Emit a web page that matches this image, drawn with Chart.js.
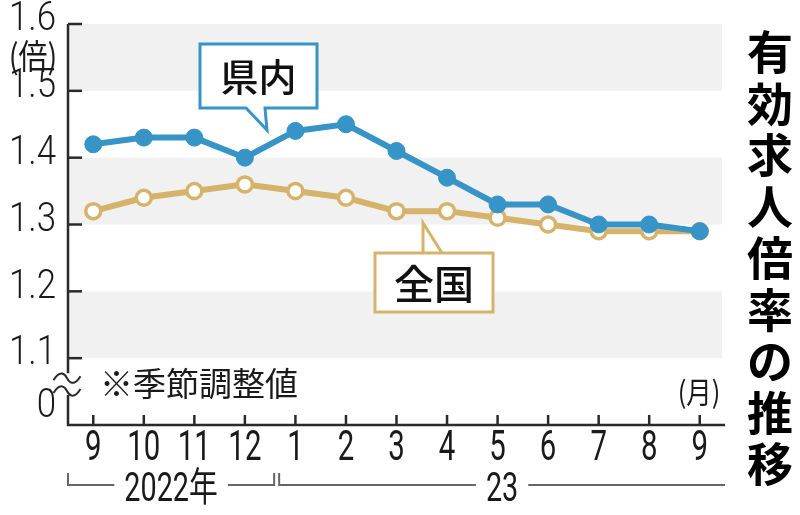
<!DOCTYPE html>
<html lang="ja">
<head>
<meta charset="utf-8">
<title>有効求人倍率の推移</title>
<script src="https://cdn.jsdelivr.net/npm/chart.js@4/dist/chart.umd.min.js"></script>
<style>
  html, body { margin: 0; padding: 0; background: #fff; }
  #wrap { width: 800px; height: 515px; position: relative; }
</style>
</head>
<body>
<div id="wrap"><canvas id="jobsChart"></canvas></div>
<script>
'use strict';

// data
const months = ['9', '10', '11', '12', '1', '2', '3', '4', '5', '6', '7', '8', '9'];
const prefecture = [1.42, 1.43, 1.43, 1.40, 1.44, 1.45, 1.41, 1.37, 1.33, 1.33, 1.30, 1.30, 1.29];
const national = [1.32, 1.34, 1.35, 1.36, 1.35, 1.34, 1.32, 1.32, 1.31, 1.30, 1.29, 1.29, 1.29];

// the axis is broken below 1.1, value 1.0 stands for "0"
const yTickValues = [1.0, 1.1, 1.2, 1.3, 1.4, 1.5, 1.6];
const yTickLabels = ['0', '1.1', '1.2', '1.3', '1.4', '1.5', '1.6'];
const shadedBands = [[1.5, 1.6], [1.3, 1.4], [1.1, 1.2]];
const yearGroups = [
    { label: '2022年', from: 0, to: 3 },
    { label: '23', from: 4, to: 12 }
];

const colors = {
    blue: '#3794c6',
    gold: '#d6b36a',
    band: '#f1f1f1',
    axis: '#2a2a2a',
    text: '#1a1a1a',
    bracket: '#666'
};

const numFont = 'Roboto, "Noto Sans CJK JP", sans-serif';
const jpFont = '"Noto Sans CJK JP", "Noto Sans", sans-serif';

function squeezeText(ctx, text, x, y, font, sx, align, baseline) {
    ctx.save();
    ctx.translate(x, y);
    ctx.scale(sx, 1);
    ctx.font = font;
    ctx.textAlign = align || 'center';
    ctx.textBaseline = baseline || 'middle';
    ctx.fillText(text, 0, 0);
    ctx.restore();
}

function tilde(ctx, cx, cy, w) {
    ctx.beginPath();
    ctx.moveTo(cx - w / 2, cy + 2);
    ctx.bezierCurveTo(cx - w / 4, cy - 9, cx - 2, cy - 4, cx, cy);
    ctx.bezierCurveTo(cx + 2, cy + 4, cx + w / 4, cy + 9, cx + w / 2, cy - 2);
    ctx.stroke();
}

const backdrop = {
    id: 'backdrop',
    beforeDraw(chart) {
        const { ctx, width, height } = chart;
        ctx.save();
        ctx.fillStyle = '#fff';
        ctx.fillRect(0, 0, width, height);
        ctx.restore();
    },
    beforeDatasetsDraw(chart) {
        const { ctx, chartArea } = chart;
        const x = chart.scales.x;
        const y = chart.scales.y;
        const left = chartArea.left;
        const right = chartArea.right;
        const bottom = y.getPixelForValue(1.0);

        ctx.save();
        // grey bands
        ctx.fillStyle = colors.band;
        shadedBands.forEach(([lo, hi]) => {
            const top = y.getPixelForValue(hi);
            const bot = y.getPixelForValue(lo);
            ctx.fillRect(left, top, right - 3 - left, bot - top);
        });

        // axes
        ctx.strokeStyle = colors.axis;
        ctx.lineWidth = 2.5;
        const y11 = y.getPixelForValue(1.1);
        const breakTop = y11 + 15;
        const breakBot = bottom - 30;
        ctx.beginPath();
        ctx.moveTo(left, y.getPixelForValue(1.6));
        ctx.lineTo(left, breakTop);
        ctx.moveTo(left, breakBot);
        ctx.lineTo(left, bottom);
        ctx.lineTo(right, bottom);
        ctx.stroke();

        // break marks
        ctx.lineWidth = 2;
        tilde(ctx, left - 1, breakTop + 5, 27);
        tilde(ctx, left - 1, breakBot - 4, 27);

        // y ticks (inside)
        ctx.lineWidth = 2.5;
        yTickValues.forEach(v => {
            if (v === 1.0) return;
            const py = y.getPixelForValue(v);
            ctx.beginPath();
            ctx.moveTo(left, py);
            ctx.lineTo(left + 14, py);
            ctx.stroke();
        });
        // x ticks (inside)
        months.forEach((m, i) => {
            const px = x.getPixelForValue(i);
            ctx.beginPath();
            ctx.moveTo(px, bottom);
            ctx.lineTo(px, bottom - 10);
            ctx.stroke();
        });

        // y labels
        ctx.fillStyle = colors.text;
        yTickValues.forEach((v, i) => {
            const py = y.getPixelForValue(v);
            if (v === 1.0) {
                squeezeText(ctx, yTickLabels[i], 56, py + 2, '300 41px ' + numFont, 0.85, 'right', 'bottom');
            } else {
                squeezeText(ctx, yTickLabels[i], 56, py - 4, '300 41px ' + numFont, 0.85, 'right', 'middle');
            }
        });
        squeezeText(ctx, '(倍)', 33, (y.getPixelForValue(1.6) + y.getPixelForValue(1.5)) / 2 - 1,
            '34px ' + jpFont, 0.85, 'center', 'middle');

        // x labels
        months.forEach((m, i) => {
            squeezeText(ctx, m, x.getPixelForValue(i), bottom + 24, '42px ' + numFont, 0.7, 'center', 'middle');
        });

        // year brackets
        const lineY = bottom + 60;
        ctx.strokeStyle = colors.bracket;
        ctx.lineWidth = 2;
        yearGroups.forEach((g, gi) => {
            const x0 = gi === 0 ? left : (x.getPixelForValue(g.from - 0.5) + 9);
            const isLast = gi === yearGroups.length - 1;
            const x1 = isLast ? right : (x.getPixelForValue(g.to + 0.5) + 4);
            const cx = (x0 + x1) / 2;
            ctx.font = '40px ' + numFont;
            const tw = ctx.measureText(g.label).width * 0.72;
            ctx.beginPath();
            ctx.moveTo(x0, lineY - 12);
            ctx.lineTo(x0, lineY);
            ctx.lineTo(cx - tw / 2 - 10, lineY);
            ctx.moveTo(cx + tw / 2 + 10, lineY);
            ctx.lineTo(x1, lineY);
            if (!isLast) ctx.lineTo(x1, lineY - 12);
            ctx.stroke();
            ctx.fillStyle = colors.text;
            squeezeText(ctx, g.label, cx, lineY + 6, '40px ' + numFont, 0.72, 'center', 'middle');
        });

        // notes
        ctx.fillStyle = colors.text;
        ctx.font = '33px ' + jpFont;
        ctx.textAlign = 'left';
        ctx.textBaseline = 'middle';
        ctx.fillText('※季節調整値', 100, y11 + 25);
        squeezeText(ctx, '(月)', right - 26, bottom - 33, '30px ' + jpFont, 0.85, 'center', 'middle');

        // vertical title
        const title = '有効求人倍率の推移';
        ctx.font = 'bold 46px ' + jpFont;
        ctx.textAlign = 'center';
        ctx.textBaseline = 'middle';
        ctx.fillStyle = '#000';
        [...title].forEach((ch, i) => {
            ctx.fillText(ch, 770, 52 + i * 51.5);
        });
        ctx.restore();
    },
    afterDatasetsDraw(chart) {
        const { ctx } = chart;
        ctx.save();
        const callout = (box, tail, color, text, font) => {
            ctx.beginPath();
            ctx.moveTo(box.x, box.y);
            ctx.lineTo(box.x + box.w, box.y);
            ctx.lineTo(box.x + box.w, box.y + box.h);
            if (tail.side === 'bottom') {
                ctx.lineTo(tail.b, box.y + box.h);
                ctx.lineTo(tail.tx, tail.ty);
                ctx.lineTo(tail.a, box.y + box.h);
                ctx.lineTo(box.x, box.y + box.h);
                ctx.closePath();
            } else {
                ctx.lineTo(box.x, box.y + box.h);
                ctx.lineTo(box.x, box.y);
                ctx.lineTo(tail.a, box.y);
                ctx.lineTo(tail.tx, tail.ty);
                ctx.lineTo(tail.b, box.y);
                ctx.closePath();
            }
            ctx.fillStyle = '#fff';
            ctx.fill();
            ctx.strokeStyle = color;
            ctx.lineWidth = 3;
            ctx.lineJoin = 'miter';
            ctx.stroke();
            ctx.fillStyle = '#111';
            ctx.font = font;
            ctx.textAlign = 'center';
            ctx.textBaseline = 'middle';
            ctx.fillText(text, box.x + box.w / 2, box.y + box.h / 2 + 1);
        };
        callout({ x: 200, y: 44, w: 117, h: 64 }, { side: 'bottom', a: 246, b: 265, tx: 267, ty: 130 },
            colors.blue, '県内', '500 38px ' + jpFont);
        callout({ x: 375, y: 253, w: 118, h: 59 }, { side: 'top', a: 423, b: 442, tx: 423, ty: 223 },
            colors.gold, '全国', '500 40px ' + jpFont);
        ctx.restore();
    }
};

new Chart(document.getElementById('jobsChart'), {
    type: 'line',
    data: {
        labels: months,
        datasets: [{
            label: '県内',
            data: prefecture,
            borderColor: colors.blue,
            borderWidth: 6,
            pointRadius: 8.5,
            pointBackgroundColor: colors.blue,
            pointBorderColor: colors.blue,
            pointBorderWidth: 1,
            tension: 0
        }, {
            label: '全国',
            data: national,
            borderColor: colors.gold,
            borderWidth: 6,
            pointRadius: 7.5,
            pointBackgroundColor: '#fff',
            pointBorderColor: colors.gold,
            pointBorderWidth: 3.5,
            tension: 0
        }]
    },
    options: {
        responsive: true,
        maintainAspectRatio: false,
        animation: false,
        layout: { padding: { top: 24, right: 75, left: 0, bottom: 0 } },
        plugins: {
            legend: { display: false },
            tooltip: { enabled: false }
        },
        scales: {
            x: {
                type: 'category',
                offset: true,
                grid: { display: false, drawTicks: false },
                border: { display: false },
                ticks: { display: false },
                afterFit(scale) { scale.height = 90; }
            },
            y: {
                min: 1.0,
                max: 1.6,
                grid: { display: false, drawTicks: false },
                border: { display: false },
                ticks: { display: false, stepSize: 0.1 },
                afterFit(scale) { scale.width = 68; }
            }
        }
    },
    plugins: [backdrop]
});
</script>
</body>
</html>
